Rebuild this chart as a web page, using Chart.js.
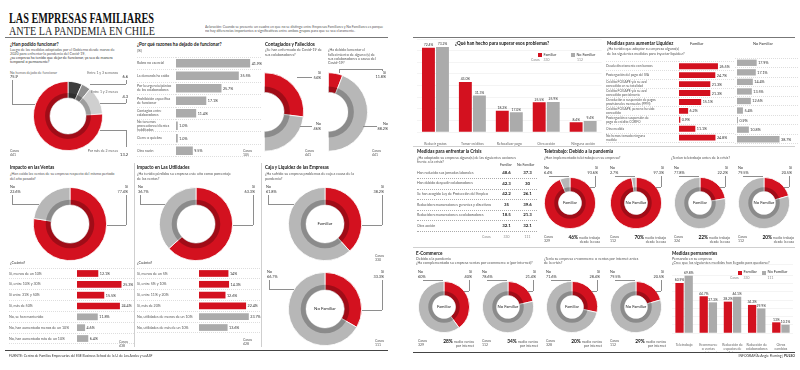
<!DOCTYPE html>
<html lang="es"><head><meta charset="utf-8">
<script src="https://cdn.jsdelivr.net/npm/chart.js@4.4.1/dist/chart.umd.min.js"></script>
<style>
html,body{margin:0;padding:0;background:#fff;width:800px;height:370px;overflow:hidden}
#page{position:relative;width:800px;height:370px;font-family:Lato,'Open Sans',sans-serif}
.t{position:absolute;white-space:pre;color:#555}
.ln{position:absolute}
canvas{position:absolute}
</style></head><body><div id="page"></div>
<script>
// ===================== DATA =====================
const funcionarLabels = ['Entre 1 y 3 semanas', 'Entre 1 y 2 meses', 'Por más de 2 meses', 'No hemos dejado de funcionar'];
const funcionarValues = [6.6, 4.3, 13.2, 75.9];
const funcionarCasos = 441;

const razonesLabels = ['Rubro no esencial', 'La demanda ha caído', ['Por la urgencia/pánico', 'de los colaboradores'], ['Prohibición específica', 'de funcionar'], ['Contagios entre', 'colaboradores'], ['No tenemos', 'proveedores/clientes', 'habilitados'], 'Cierre o quiebra', 'Otra razón'];
const razonesValues = [41.9, 35.5, 25.7, 17.1, 11.4, 1.0, 1.0, 9.5];
const razonesCasos = 105;

const contagiadosSiNo = [54, 46];
const contagiadosCasos = 441;
const fallecidosSiNo = [11.8, 88.2];
const fallecidosCasos = 441;

const ventasSiNo = [77.4, 22.6];
const ventasCuantoLabels = ['Sí, menos de un 10%', 'Sí, entre 10% y 30%', 'Sí entre 31% y 50%', 'Sí, más de 50%', 'No, se han mantenido', 'No, han aumentado menos de un 10%', 'No, han aumentado más de un 10%'];
const ventasCuantoValues = [12.1, 25.3, 15.5, 24.4, 11.8, 4.6, 6.4];
const ventasCasos = 438;

const utilidadesSiNo = [63.3, 36.7];
const utilCuantoLabels = ['Sí, menos de un 5%', 'Sí, entre 5% y 10%', 'Sí, entre 11% y 20%', 'Sí, más de 20%', 'No, utilidades de menos de un 10%', 'No, utilidades de más de un 10%'];
const utilCuantoValues = [14, 14.3, 12.6, 22.4, 23.7, 13.6];
const utilidadesCasos = 428;

const cajaFamiliarSiNo = [38.2, 61.8];
const cajaFamiliarCasos = 330;
const cajaNoFamiliarSiNo = [33.3, 66.7];
const cajaNoFamiliarCasos = 111;

const superarLabels = [['Reducir gastos', 'en general'], ['Tomar créditos', 'de corto plazo'], ['Refocalizar pago', 'a proveedores'], 'Otra acción', 'Ninguna acción'];
const superarFamiliar = [72.4, 43, 18.2, 25.5, 8.4];
const superarNoFamiliar = [73.2, 31.3, 17.0, 25.9, 9.4];
const superarCasos = [330, 112];

const liquidezLabels = ['Deuda directamente con bancos', 'Postergación del pago del IVA', ['Crédito FOGAPE y/o su aval', 'concedido en su totalidad'], ['Crédito FOGAPE y/o su aval', 'concedido parcialmente'], ['Devolución o suspensión de pagos', 'provisionales mensuales (PPM)'], ['Crédito FOGAPE, pero no ha sido', 'concedido'], ['Postergación o suspensión de', 'pago de crédito CORFO'], 'Otra medida', ['No hemos tomado ninguna', 'medida']];
const liquidezFamiliar = [26.5, 24.7, 21.3, 21.3, 15.1, 6.2, 0.9, 11.1, 24.8];
const liquidezNoFamiliar = [17.9, 17.1, 14.4, 13.5, 12.6, 5.4, 0.9, 10.8, 38.7];

const crisisLabels = ['Han reducido sus jornadas laborales', 'Han debido despedir colaboradores', 'Se han acogido Ley de Protección del Empleo', 'Reducido remuneraciones gerentes y directivos', 'Reducido remuneraciones a colaboradores', 'Otra acción'];
const crisisFamiliar = [48.6, 42.3, 42.2, 35, 18.5, 32.1];
const crisisNoFamiliar = [37.3, 30, 26.1, 39.6, 21.3, 32.1];
const crisisCasos = [330, 111];

const teleGrupos = ['Familiar', 'No Familiar', 'Familiar', 'No Familiar'];
const teleSi = [93.6, 97.3, 22.2, 20.5];
const teleNo = [6.4, 2.7, 77.8, 79.5];
const teleCasos = [329, 112, 324, 112];
const teleMedio = [46, 70, 22, 20];

const ecomGrupos = ['Familiar', 'No Familiar', 'Familiar', 'No Familiar'];
const ecomSi = [40, 21.4, 28.4, 20.5];
const ecomNo = [60, 78.6, 71.6, 79.5];
const ecomCasos = [329, 112, 328, 112];
const ecomMedio = [28, 34, 20, 29];

const permLabels = ['Teletrabajo', ['Ecommerce', 'o ventas', 'por internet'], ['Reducción de', 'espacios de', 'oficinas'], ['Reducción de', 'colaboradores'], ['Otros', 'cambios']];
const permFamiliar = [60.9, 44.7, 38.2, 34.2, 13];
const permNoFamiliar = [69.8, 37.3, 44.1, 29.9, 10.1];
const permCasos = [330, 111];

// ===================== STYLE / HELPERS =====================
const RED = '#d3111f', GRAY = '#b7b7b7', BGRAY = '#ababab', LINE = '#8e8e8e';
const FONT = "Lato, 'Open Sans', sans-serif";
Chart.defaults.font.family = FONT;
Chart.defaults.font.size = 3.6;
Chart.defaults.color = '#555';
const page = document.getElementById('page');

function T(x, y, txt, o = {}) {
  const d = document.createElement('div');
  d.className = 't';
  if (o.html) d.innerHTML = txt; else d.textContent = txt;
  const s = d.style, size = o.size || 3.7;
  s.left = x + 'px'; s.top = y + 'px';
  s.fontSize = size + 'px';
  s.lineHeight = (o.lh || size * 1.15) + 'px';
  if (o.bold) s.fontWeight = '700';
  s.color = o.color || '#555';
  if (o.family) s.fontFamily = o.family;
  if (o.align === 'right') { s.left = 'auto'; s.right = (800 - x) + 'px'; s.textAlign = 'right'; }
  if (o.align === 'center') { s.transform = 'translate(-50%,-50%)'; s.textAlign = 'center'; }
  page.appendChild(d);
  if (o.w) { const w = d.getBoundingClientRect().width; s.transformOrigin = 'left top'; s.transform = 'scaleX(' + (o.w / w) + ')'; }
  return d;
}
const H = (x, y, txt) => T(x, y, txt, { size: 4.6, bold: true, color: '#151515', lh: 5 });
function L(x1, y1, x2, y2, c = LINE, w = 0.5) {
  const d = document.createElement('div'); d.className = 'ln'; const s = d.style; s.background = c;
  if (y1 === y2) { s.left = Math.min(x1, x2) + 'px'; s.top = (y1 - w / 2) + 'px'; s.width = Math.abs(x2 - x1) + 'px'; s.height = w + 'px'; }
  else { s.left = (x1 - w / 2) + 'px'; s.top = Math.min(y1, y2) + 'px'; s.width = w + 'px'; s.height = Math.abs(y2 - y1) + 'px'; }
  page.appendChild(d);
}
function R(x, y, w, h, c) { const d = document.createElement('div'); d.className = 'ln'; Object.assign(d.style, { left: x + 'px', top: y + 'px', width: w + 'px', height: h + 'px', background: c }); page.appendChild(d); }
function C(x, y, w, h) {
  const c = document.createElement('canvas');
  c.width = Math.round(w); c.height = Math.round(h);
  c.style.left = x + 'px'; c.style.top = y + 'px';
  c.style.width = Math.round(w) + 'px'; c.style.height = Math.round(h) + 'px';
  page.appendChild(c); return c;
}
const pct = v => String(v) + '%';
const pct1 = v => v.toFixed(1) + '%';

function makeVlab(fmt, size) {
  return { id: 'vlab', afterDatasetsDraw(chart) {
    const ctx = chart.ctx; ctx.save();
    ctx.font = (size || 3.7) + 'px ' + FONT; ctx.fillStyle = '#333';
    const horiz = chart.options.indexAxis === 'y';
    chart.data.datasets.forEach((ds, di) => {
      chart.getDatasetMeta(di).data.forEach((el, i) => {
        const s = fmt(ds.data[i]);
        if (horiz) { ctx.textAlign = 'left'; ctx.textBaseline = 'middle'; ctx.fillText(s, el.x + 1.5, el.y + 0.3); }
        else { ctx.textAlign = 'center'; ctx.textBaseline = 'bottom'; ctx.fillText(s, el.x, el.y - 1); }
      });
    });
    ctx.restore();
  } };
}
const shade = { id: 'shade', afterDatasetsDraw(chart) {
  const arcs = chart.getDatasetMeta(0).data; if (!arcs.length) return;
  const a = arcs[0], ctx = chart.ctx;
  const t = (a.outerRadius - a.innerRadius) * 0.3;
  const s = arcs[0].startAngle, e = arcs[arcs.length - 1].endAngle;
  ctx.save(); ctx.beginPath();
  ctx.arc(a.x, a.y, a.innerRadius + t, s, e);
  ctx.arc(a.x, a.y, a.innerRadius, e, s, true);
  ctx.closePath(); ctx.fillStyle = 'rgba(0,0,0,0.24)'; ctx.fill(); ctx.restore();
} };

function hbar(o) {
  const cv = C(o.x, o.y, o.w, o.h);
  return new Chart(cv, {
    type: 'bar',
    data: { labels: o.labels, datasets: [{ data: o.values, backgroundColor: o.colors, barPercentage: o.bp || 0.7, categoryPercentage: 1 }] },
    options: {
      indexAxis: 'y', responsive: false, animation: false, events: [], devicePixelRatio: 1,
      layout: { padding: 0 },
      plugins: { legend: { display: false }, tooltip: { enabled: false } },
      scales: {
        x: { display: false, min: 0, max: o.max },
        y: {
          afterFit: s => { s.width = o.labelW; },
          border: { display: false, dash: [1, 1] },
          grid: { offset: true, color: '#bdbdbd', lineWidth: 0.5, drawTicks: true, tickLength: o.labelW, tickColor: '#bdbdbd', tickWidth: 0.5, tickBorderDash: [1, 1] },
          ticks: { display: o.showLabels !== false, crossAlign: 'far', autoSkip: false, padding: 0, color: '#555', font: { size: o.fs || 3.6, lineHeight: 1.15 } }
        }
      }
    },
    plugins: [makeVlab(o.fmt || pct)]
  });
}
function vbar(o) {
  const cv = C(o.x, o.y, o.w, o.h);
  return new Chart(cv, {
    type: 'bar',
    data: { labels: o.labels, datasets: [
      { data: o.a, backgroundColor: RED, categoryPercentage: o.cp, barPercentage: o.bp },
      { data: o.b, backgroundColor: BGRAY, categoryPercentage: o.cp, barPercentage: o.bp }] },
    options: {
      responsive: false, animation: false, events: [], devicePixelRatio: 1,
      layout: { padding: { right: o.padR || 0, left: 0, top: 0, bottom: 0 } },
      plugins: { legend: { display: false }, tooltip: { enabled: false } },
      scales: {
        x: { afterFit: s => { s.height = o.axisH; }, grid: { display: false }, border: { display: false },
             ticks: { autoSkip: false, maxRotation: 0, minRotation: 0, padding: 1.5, color: '#666', font: { size: 3.5, lineHeight: 1.15 } } },
        y: { min: 0, max: o.max, afterFit: s => { s.width = o.yW; }, border: { display: false },
             grid: { color: '#e8e8e8', lineWidth: 0.5, drawTicks: false }, ticks: { display: false, stepSize: 10 } }
      }
    },
    plugins: [makeVlab(o.fmt || pct, 3.4)]
  });
}
function donut(o) {
  const r = o.r, half = !!o.half;
  const x = half ? o.cx : o.cx - r, y = o.cy - r, w = half ? r : 2 * r, h = 2 * r;
  const cv = C(x - 1, y - 1, w + 2, h + 2);
  return new Chart(cv, {
    type: 'doughnut',
    data: { labels: o.values.map((_, i) => String(i)), datasets: [{ data: o.values, backgroundColor: o.colors, borderColor: '#fff', borderWidth: 0.8 }] },
    options: { responsive: false, animation: false, events: [], devicePixelRatio: 1, cutout: o.cutout + '%', rotation: 0, circumference: half ? 180 : 360,
      layout: { padding: 1 }, plugins: { legend: { display: false }, tooltip: { enabled: false } } },
    plugins: [shade]
  });
}
const edge = (cy, r, y) => Math.sqrt(Math.max(r * r - (y - cy) * (y - cy), 0));

// ===================== LEFT PAGE =====================
T(9, 11.5, 'LAS EMPRESAS FAMILIARES', { size: 14, lh: 14, bold: true, color: '#111', family: "'Liberation Serif', serif", w: 145 });
T(9, 24.5, 'ANTE LA PANDEMIA EN CHILE', { size: 11.5, lh: 12, color: '#222', family: "'Liberation Serif', serif", w: 146 });
T(205, 26.2, 'Aclaración: Cuando se presente un cuadro en que no se distinga entre Empresas Familiares y No Familiares es porque', { size: 3.3, lh: 3.8, color: '#555', w: 178 });
T(205, 30.2, 'no hay diferencias importantes o significativas entre ambos grupos para que se vea claramente.', { size: 3.3, lh: 3.8, color: '#555', w: 150 });
L(5, 37, 388, 37, '#777', 0.7);

// --- ¿Han podido funcionar? ---
H(10, 41.5, '¿Han podido funcionar?');
T(10, 48.3, 'Luego de las medidas adoptadas por el Gobierno desde marzo de\n2020 para enfrentar la pandemia del Covid-19,', { lh: 3.9 });
T(10, 56.2, '¿su empresa ha tenido que dejar de funcionar, ya sea de manera\ntemporal o permanente?', { lh: 3.9, color: '#333' });
donut({ cx: 68, cy: 116, r: 35, cutout: 52, values: funcionarValues, colors: ['#3d3d3d', '#8f8f8f', '#cfcfcf', RED] });
T(10, 70.5, funcionarLabels[3], { size: 3.5, color: '#666' });
T(10, 74.8, String(funcionarValues[3]), { size: 4, color: '#222' });
T(118, 70.5, funcionarLabels[0], { size: 3.5, color: '#666', align: 'right' });
T(128, 75.3, String(funcionarValues[0]), { size: 4, color: '#222', align: 'right' });
T(118, 89.5, funcionarLabels[1], { size: 3.5, color: '#666', align: 'right' });
T(128, 94.8, String(funcionarValues[1]), { size: 4, color: '#222', align: 'right' });
T(118, 149, funcionarLabels[2], { size: 3.5, color: '#666', align: 'right' });
T(128, 153, String(funcionarValues[2]), { size: 4, color: '#222', align: 'right' });
T(10, 148.5, 'Casos\n' + funcionarCasos, { size: 3.5, lh: 4 });
L(12, 80, 12, 104); L(12, 104, 68 - edge(116, 35, 104), 104);
L(126, 80, 126, 84); L(126, 84, 90, 84); 
L(126, 99, 126, 103); L(126, 103, 100, 103);
L(126, 147, 126, 130); L(126, 130, 68 + edge(116, 35, 130), 130);

// --- ¿Por qué razones ha dejado de funcionar? ---
H(137, 41.5, '¿Por qué razones ha dejado de funcionar?');
T(137, 48.5, '(%)', {});
hbar({ x: 137, y: 55, w: 125, h: 104, labelW: 39, labels: razonesLabels, values: razonesValues, colors: BGRAY, max: 48.6, fmt: pct1, bp: 0.68, fs: 3.5 });
T(243, 148.5, 'Casos\n' + razonesCasos, { size: 3.5, lh: 4 });

// --- Contagiados y Fallecidos ---
H(265, 41.5, 'Contagiados y Fallecidos');
T(265, 48.3, '¿Se han enfermado de Covid-19 de\nsus colaboradores?', { lh: 4.2 });
T(328, 48.3, '¿Ha debido lamentar el\nfallecimiento de alguno (s) de\nsus colaboradores a causa del\nCovid-19?', { lh: 4.3 });
donut({ cx: 264, cy: 112, r: 40, cutout: 50, half: true, values: contagiadosSiNo, colors: [RED, GRAY] });
donut({ cx: 328, cy: 112, r: 40, cutout: 50, half: true, values: fallecidosSiNo, colors: [RED, GRAY] });
T(321, 71, 'Sí\n' + pct(contagiadosSiNo[0]), { size: 3.8, lh: 4.5, color: '#333', align: 'right' });
T(321, 122, 'No\n' + pct(contagiadosSiNo[1]), { size: 3.8, lh: 4.5, color: '#333', align: 'right' });
L(297, 77, 312, 77); L(300, 126, 312, 126);
T(386, 70.5, 'Sí\n' + pct(fallecidosSiNo[0]), { size: 3.8, lh: 4.5, color: '#333', align: 'right' });
T(388, 122, 'No\n' + pct(fallecidosSiNo[1]), { size: 3.8, lh: 4.5, color: '#333', align: 'right' });
L(339, 69, 382, 69); L(339, 69, 339, 73); L(382, 69, 382, 71); L(363, 126, 377, 126);
T(305, 148.5, 'Casos\n' + contagiadosCasos, { size: 3.5, lh: 4 });
T(372, 148.5, 'Casos\n' + fallecidosCasos, { size: 3.5, lh: 4 });

// --- big donut helper with side leaders ---
function bigDonut(cx, cy, siNo, lx, rx, ly, centerTxt) {
  donut({ cx, cy, r: 37, cutout: 52, values: siNo, colors: [RED, GRAY] });
  T(lx, ly, 'No\n' + pct(siNo[1]), { size: 3.8, lh: 4.6, color: '#333' });
  T(rx, ly, 'Sí\n' + pct(siNo[0]), { size: 3.8, lh: 4.6, color: '#333', align: 'right' });
  const yl = cy - 20, yr = cy + 1;
  L(lx + 2, ly + 10, lx + 2, yl); L(lx + 2, yl, cx - edge(cy, 37, yl), yl);
  L(rx - 2, ly + 10, rx - 2, yr); L(rx - 2, yr, cx + edge(cy, 37, yr), yr);
  if (centerTxt) T(cx, cy, centerTxt, { size: 4.4, color: '#222', align: 'center' });
}

// --- Impacto en las Ventas ---
H(10, 165, 'Impacto en las Ventas');
T(10, 172, '¿Han caído las ventas de su empresa respecto del mismo periodo\ndel año pasado?', { lh: 4.5 });
bigDonut(70, 224, ventasSiNo, 10, 128, 185);
T(10, 261, '¿Cuánto?', { size: 3.8, color: '#333' });
hbar({ x: 9, y: 266, w: 125, h: 80, labelW: 68, labels: ventasCuantoLabels, values: ventasCuantoValues,
  colors: ventasCuantoLabels.map(l => l.startsWith('Sí') ? RED : BGRAY), max: 32.4, bp: 0.62 });
T(119, 339.5, 'Casos\n' + ventasCasos, { size: 3.5, lh: 4 });

// --- Impacto en Las Utilidades ---
H(137, 165, 'Impacto en Las Utilidades');
T(137, 172, '¿Ha tenido pérdidas su empresa este año como porcentaje\nde las ventas?', { lh: 4.5 });
bigDonut(196, 224, utilidadesSiNo, 138, 255, 185);
T(137, 261, '¿Cuánto?', { size: 3.8, color: '#333' });
hbar({ x: 137, y: 266, w: 124, h: 69, labelW: 62, labels: utilCuantoLabels, values: utilCuantoValues,
  colors: utilCuantoLabels.map(l => l.startsWith('Sí') ? RED : BGRAY), max: 29.5, bp: 0.62 });
T(243, 338, 'Casos\n' + utilidadesCasos, { size: 3.5, lh: 4 });

// --- Caja y Liquidez ---
H(265, 165, 'Caja y Liquidez de las Empresas');
T(265, 172, '¿Ha sufrido su empresa problemas de caja a causa de la\npandemia?', { lh: 4.5 });
bigDonut(325, 224, cajaFamiliarSiNo, 266, 384, 185, 'Familiar');
T(375, 253.5, 'Casos\n' + cajaFamiliarCasos, { size: 3.5, lh: 4 });
bigDonut(325, 309, cajaNoFamiliarSiNo, 267, 384, 270, 'No Familiar');
T(375, 338.5, 'Casos\n' + cajaNoFamiliarCasos, { size: 3.5, lh: 4 });

L(134.5, 163, 134.5, 347, '#cfcfcf', 0.5); L(261, 163, 261, 347, '#cfcfcf', 0.5);
L(5, 350.5, 388, 350.5, '#444', 1);
T(9, 355.2, 'FUENTE: Centro de Familias Empresarias del ESE Business School de la U. de Los Andes y su ASF', { size: 3.4, color: '#333' });

// ===================== RIGHT PAGE =====================
L(413, 37, 795, 37, '#777', 0.7);

// --- ¿Qué han hecho? ---
vbar({ x: 413, y: 39, w: 190, h: 107, axisH: 14, yW: 4, padR: 1.4, max: 80, cp: 0.76, bp: 0.92,
  labels: superarLabels, a: superarFamiliar, b: superarNoFamiliar, fmt: pct1 });
H(455, 41, '¿Qué han hecho para superar esos problemas?');
R(538, 53, 4, 4, RED); T(543.5, 52.8, 'Familiar', { size: 3.8, color: '#333' });
R(571, 53, 4, 4, BGRAY); T(576.5, 52.8, 'No Familiar', { size: 3.8, color: '#333' });
T(531, 59.3, 'Casos', { size: 3.4, color: '#888' });
T(543.5, 59.3, String(superarCasos[0]), { size: 3.4, color: '#888' });
T(577, 59.3, String(superarCasos[1]), { size: 3.4, color: '#888' });

// --- Medidas para aumentar Liquidez ---
H(607, 41, 'Medidas para aumentar Liquidez');
T(607, 47, '¿Ha tenido que adoptar su empresa alguna(s)\nde las siguientes medidas para inyectar liquidez?', { lh: 4.6 });
T(690, 41.5, 'Familiar', { size: 4, color: '#333' });
T(753, 41.5, 'No Familiar', { size: 4, color: '#333' });
hbar({ x: 606, y: 58, w: 129, h: 86, labelW: 73, labels: liquidezLabels, values: liquidezFamiliar, colors: RED, max: 38.1, bp: 0.66, fs: 3.3 });
hbar({ x: 735, y: 58, w: 63, h: 86, labelW: 2, showLabels: false, labels: liquidezLabels, values: liquidezNoFamiliar, colors: BGRAY, max: 55.5, bp: 0.66 });

L(413, 146, 795, 146, '#d0d0d0', 0.5);

// --- Medidas para enfrentar la Crisis (table) ---
H(417, 148.5, 'Medidas para enfrentar la Crisis');
T(417, 155.8, '¿Ha adoptado su empresa alguna(s) de las siguientes acciones\nfrente a la crisis?', { lh: 4.2 });
T(500, 163, 'Familiar', { size: 3.5, color: '#333' });
T(517, 163, 'No Familiar', { size: 3.5, color: '#333' });
const rowY = [173, 183.5, 194.2, 204.8, 215.4, 226];
crisisLabels.forEach((lab, i) => {
  T(417, rowY[i] - 2.1, lab, { size: 3.6 });
  T(506.5, rowY[i], String(crisisFamiliar[i]), { size: 4.4, bold: true, color: '#222', align: 'center' });
  T(527.5, rowY[i], String(crisisNoFamiliar[i]), { size: 4.4, bold: true, color: '#222', align: 'center' });
  const d = document.createElement('div'); d.className = 'ln';
  Object.assign(d.style, { left: '417px', top: (rowY[i] + 5) + 'px', width: '120px', height: '0', borderTop: '0.6px dotted #aaa' });
  page.appendChild(d);
});
T(482, 235.5, 'Casos', { size: 3.4, color: '#888' });
T(506.5, 237.5, String(crisisCasos[0]), { size: 3.4, color: '#888', align: 'center' });
T(527.5, 237.5, String(crisisCasos[1]), { size: 3.4, color: '#888', align: 'center' });

// --- small donut helper ---
function smallDonut(cx, cy, si, no, grupo, casos, medioHtml) {
  const r = 26;
  donut({ cx, cy, r, cutout: 45, values: [si, no], colors: [RED, GRAY] });
  T(cx - 26, cy - 37, 'No\n' + pct(no), { size: 3.8, lh: 4.5, color: '#333' });
  T(cx + 28, cy - 37, 'Sí\n' + pct(si), { size: 3.8, lh: 4.5, color: '#333', align: 'right' });
  L(cx - 21, cy - r - 0.5, cx - 1, cy - r - 0.5);
  const yr = cy - r + 10;
  L(cx + 25, cy - r - 1, cx + 25, yr); L(cx + 25, yr, cx + edge(cy, r, yr), yr);
  T(cx, cy, grupo, { size: 4.2, color: '#222', align: 'center' });
  T(cx - 26, cy + 32, 'Casos\n' + casos, { size: 3.5, lh: 4.2 });
  T(cx + 30, cy + 31.5, medioHtml, { html: true, size: 3.5, lh: 4.3, color: '#555', align: 'right' });
}

// --- Teletrabajo ---
H(544, 148.5, 'Teletrabajo: Debido a la pandemia');
T(544, 156, '¿Han implementado teletrabajo en su empresa?', {});
T(671, 156, '¿Tenían teletrabajo antes de la crisis?', {});
const teleX = [570, 636, 700, 764];
teleX.forEach((cx, i) => smallDonut(cx, 203, teleSi[i], teleNo[i], teleGrupos[i], teleCasos[i],
  '<b style="font-size:4.8px;color:#111">' + teleMedio[i] + '%</b> medio trabajo\ndesde la casa'));

L(413, 247, 795, 247, '#d0d0d0', 0.5);

// --- E-Commerce ---
H(416, 250.5, 'E-Commerce');
T(416, 257, 'Debido a la pandemia\n¿Ha complementado su empresa ventas por ecommerce o (por internet)?', { lh: 4.2 });
T(544, 257, '¿Tenía su empresa e-commerce o ventas por internet antes\nde la crisis?', { lh: 4.2 });
const ecomX = [444, 508, 572, 636];
ecomX.forEach((cx, i) => smallDonut(cx, 307, ecomSi[i], ecomNo[i], ecomGrupos[i], ecomCasos[i],
  '<b style="font-size:4.8px;color:#111">' + ecomMedio[i] + '%</b> medio ventas\npor internet'));

// --- Medidas permanentes ---
vbar({ x: 668, y: 264, w: 128, h: 88, axisH: 19, yW: 4, padR: 3, max: 84, cp: 0.76, bp: 0.9,
  labels: permLabels, a: permFamiliar, b: permNoFamiliar, fmt: pct });
H(672, 250.5, 'Medidas permanentes');
T(672, 257, 'Pensando en su empresa\n¿Cree que las siguientes medidas han llegado para quedarse?', { lh: 4.2 });
R(738, 270.5, 4, 4, RED); T(743.5, 270.3, 'Familiar', { size: 4, color: '#333' });
R(762, 270.5, 4, 4, BGRAY); T(767.5, 270.3, 'No Familiar', { size: 4, color: '#333' });
T(730, 276.8, 'Casos', { size: 3.4, color: '#888' });
T(743.5, 276.8, String(permCasos[0]), { size: 3.4, color: '#888' });
T(767.5, 276.8, String(permCasos[1]), { size: 3.4, color: '#888' });

L(413, 352.5, 795, 352.5, '#444', 1);
T(795, 355.2, 'INFOGRAFÍA: Angie Fleming | <b>PULSO</b>', { html: true, size: 3.4, color: '#333', align: 'right' });
</script></body></html>
